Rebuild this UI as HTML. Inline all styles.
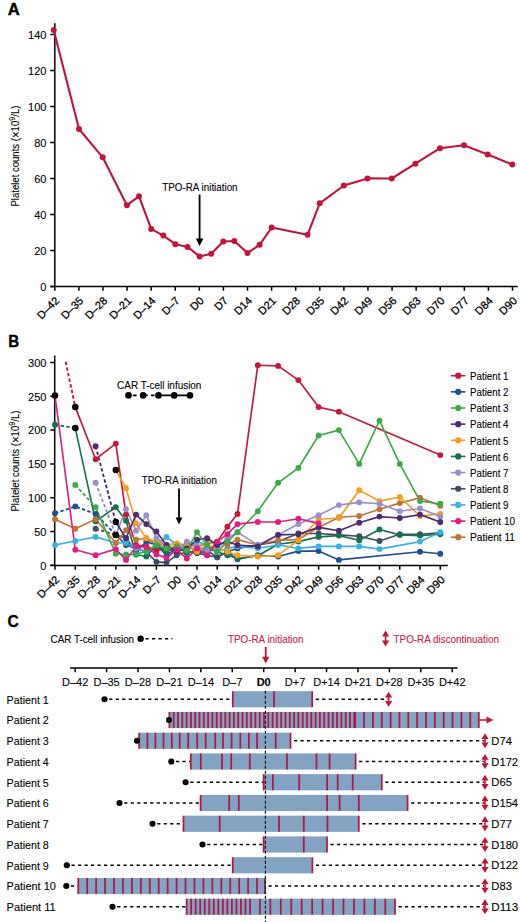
<!DOCTYPE html>
<html><head><meta charset="utf-8"><style>
html,body{margin:0;padding:0;background:#fff;}
svg{display:block;}
text{font-family:"Liberation Sans", sans-serif;fill:#000;stroke:#000;stroke-width:0.1px;}
</style></head><body>
<svg width="520" height="922" viewBox="0 0 520 922">
<rect width="520" height="922" fill="#fff"/>
<text x="7.8" y="15.1" font-size="17" font-weight="bold" textLength="12" lengthAdjust="spacingAndGlyphs" style="stroke-width:0.4px">A</text>
<path d="M54.8 23.3V287.2M50.3 286.6H517.8" stroke="#000" stroke-width="1.5" fill="none"/>
<text x="46.4" y="290.80" font-size="11" text-anchor="end">0</text>
<text x="46.4" y="254.80" font-size="11" text-anchor="end">20</text>
<text x="46.4" y="218.80" font-size="11" text-anchor="end">40</text>
<text x="46.4" y="182.80" font-size="11" text-anchor="end">60</text>
<text x="46.4" y="146.80" font-size="11" text-anchor="end">80</text>
<text x="46.4" y="110.80" font-size="11" text-anchor="end">100</text>
<text x="46.4" y="74.80" font-size="11" text-anchor="end">120</text>
<text x="46.4" y="38.80" font-size="11" text-anchor="end">140</text>
<text transform="translate(60.00,301.4) rotate(-45)" font-size="11" text-anchor="end" style="stroke-width:0.3px">D–42</text>
<text transform="translate(84.09,301.4) rotate(-45)" font-size="11" text-anchor="end" style="stroke-width:0.3px">D–35</text>
<text transform="translate(108.18,301.4) rotate(-45)" font-size="11" text-anchor="end" style="stroke-width:0.3px">D–28</text>
<text transform="translate(132.27,301.4) rotate(-45)" font-size="11" text-anchor="end" style="stroke-width:0.3px">D–21</text>
<text transform="translate(156.36,301.4) rotate(-45)" font-size="11" text-anchor="end" style="stroke-width:0.3px">D–14</text>
<text transform="translate(180.45,301.4) rotate(-45)" font-size="11" text-anchor="end" style="stroke-width:0.3px">D–7</text>
<text transform="translate(204.54,301.4) rotate(-45)" font-size="11" text-anchor="end" style="stroke-width:0.3px">D0</text>
<text transform="translate(228.63,301.4) rotate(-45)" font-size="11" text-anchor="end" style="stroke-width:0.3px">D7</text>
<text transform="translate(252.72,301.4) rotate(-45)" font-size="11" text-anchor="end" style="stroke-width:0.3px">D14</text>
<text transform="translate(276.81,301.4) rotate(-45)" font-size="11" text-anchor="end" style="stroke-width:0.3px">D21</text>
<text transform="translate(300.90,301.4) rotate(-45)" font-size="11" text-anchor="end" style="stroke-width:0.3px">D28</text>
<text transform="translate(324.99,301.4) rotate(-45)" font-size="11" text-anchor="end" style="stroke-width:0.3px">D35</text>
<text transform="translate(349.08,301.4) rotate(-45)" font-size="11" text-anchor="end" style="stroke-width:0.3px">D42</text>
<text transform="translate(373.17,301.4) rotate(-45)" font-size="11" text-anchor="end" style="stroke-width:0.3px">D49</text>
<text transform="translate(397.26,301.4) rotate(-45)" font-size="11" text-anchor="end" style="stroke-width:0.3px">D56</text>
<text transform="translate(421.35,301.4) rotate(-45)" font-size="11" text-anchor="end" style="stroke-width:0.3px">D63</text>
<text transform="translate(445.44,301.4) rotate(-45)" font-size="11" text-anchor="end" style="stroke-width:0.3px">D70</text>
<text transform="translate(469.53,301.4) rotate(-45)" font-size="11" text-anchor="end" style="stroke-width:0.3px">D77</text>
<text transform="translate(493.62,301.4) rotate(-45)" font-size="11" text-anchor="end" style="stroke-width:0.3px">D84</text>
<text transform="translate(517.71,301.4) rotate(-45)" font-size="11" text-anchor="end" style="stroke-width:0.3px">D90</text>
<path d="M50.3 286.60H54.8 M50.3 250.60H54.8 M50.3 214.60H54.8 M50.3 178.60H54.8 M50.3 142.60H54.8 M50.3 106.60H54.8 M50.3 70.60H54.8 M50.3 34.60H54.8 M54.80 286.6V290.8 M78.89 286.6V290.8 M102.98 286.6V290.8 M127.07 286.6V290.8 M151.16 286.6V290.8 M175.25 286.6V290.8 M199.34 286.6V290.8 M223.43 286.6V290.8 M247.52 286.6V290.8 M271.61 286.6V290.8 M295.70 286.6V290.8 M319.79 286.6V290.8 M343.88 286.6V290.8 M367.97 286.6V290.8 M392.06 286.6V290.8 M416.15 286.6V290.8 M440.24 286.6V290.8 M464.33 286.6V290.8 M488.42 286.6V290.8 M512.51 286.6V290.8" stroke="#000" stroke-width="1.5" fill="none"/>
<text transform="translate(19.1,156) rotate(-90)" font-size="11.3" text-anchor="middle" textLength="101" lengthAdjust="spacingAndGlyphs">Platelet counts (<tspan font-size="13.5" dy="0.5">×</tspan><tspan dy="-0.5">10</tspan><tspan dy="-4.6" font-size="8.8">9</tspan><tspan dy="4.6">/L)</tspan></text>
<path d="M53.7 30.1 L79.0 129.0 L102.7 157.3 L126.9 205.2 L139.0 196.3 L151.2 228.9 L163.3 235.6 L175.4 244.2 L187.5 246.9 L199.6 256.4 L211.2 253.7 L223.3 241.5 L234.3 241.0 L247.5 253.1 L259.6 244.8 L271.7 227.5 L307.5 234.8 L319.7 203.3 L343.9 185.5 L367.5 178.4 L391.7 178.5 L415.4 163.7 L440.0 148.2 L464.0 145.3 L487.7 154.5 L512.3 164.6" stroke="#C0143C" stroke-width="2.1" fill="none" stroke-linejoin="round"/>
<circle cx="53.7" cy="30.1" r="3" fill="#C0143C"/>
<circle cx="79.0" cy="129.0" r="3" fill="#C0143C"/>
<circle cx="102.7" cy="157.3" r="3" fill="#C0143C"/>
<circle cx="126.9" cy="205.2" r="3" fill="#C0143C"/>
<circle cx="139.0" cy="196.3" r="3" fill="#C0143C"/>
<circle cx="151.2" cy="228.9" r="3" fill="#C0143C"/>
<circle cx="163.3" cy="235.6" r="3" fill="#C0143C"/>
<circle cx="175.4" cy="244.2" r="3" fill="#C0143C"/>
<circle cx="187.5" cy="246.9" r="3" fill="#C0143C"/>
<circle cx="199.6" cy="256.4" r="3" fill="#C0143C"/>
<circle cx="211.2" cy="253.7" r="3" fill="#C0143C"/>
<circle cx="223.3" cy="241.5" r="3" fill="#C0143C"/>
<circle cx="234.3" cy="241.0" r="3" fill="#C0143C"/>
<circle cx="247.5" cy="253.1" r="3" fill="#C0143C"/>
<circle cx="259.6" cy="244.8" r="3" fill="#C0143C"/>
<circle cx="271.7" cy="227.5" r="3" fill="#C0143C"/>
<circle cx="307.5" cy="234.8" r="3" fill="#C0143C"/>
<circle cx="319.7" cy="203.3" r="3" fill="#C0143C"/>
<circle cx="343.9" cy="185.5" r="3" fill="#C0143C"/>
<circle cx="367.5" cy="178.4" r="3" fill="#C0143C"/>
<circle cx="391.7" cy="178.5" r="3" fill="#C0143C"/>
<circle cx="415.4" cy="163.7" r="3" fill="#C0143C"/>
<circle cx="440.0" cy="148.2" r="3" fill="#C0143C"/>
<circle cx="464.0" cy="145.3" r="3" fill="#C0143C"/>
<circle cx="487.7" cy="154.5" r="3" fill="#C0143C"/>
<circle cx="512.3" cy="164.6" r="3" fill="#C0143C"/>
<text x="162.3" y="190.9" font-size="10.4" textLength="75.3" lengthAdjust="spacingAndGlyphs">TPO-RA initiation</text>
<path d="M199.6 194.5V240" stroke="#000" stroke-width="1.8"/>
<path d="M195.8 238.5L199.6 246L203.4 238.5Z" fill="#000"/>
<text x="8.3" y="346.7" font-size="17" font-weight="bold" textLength="10.9" lengthAdjust="spacingAndGlyphs" style="stroke-width:0.4px">B</text>
<path d="M54.7 355.4V566M50.3 565.5H447.8" stroke="#000" stroke-width="1.5" fill="none"/>
<text x="46.4" y="569.50" font-size="11" text-anchor="end">0</text>
<text x="46.4" y="535.70" font-size="11" text-anchor="end">50</text>
<text x="46.4" y="501.90" font-size="11" text-anchor="end">100</text>
<text x="46.4" y="468.10" font-size="11" text-anchor="end">150</text>
<text x="46.4" y="434.30" font-size="11" text-anchor="end">200</text>
<text x="46.4" y="400.50" font-size="11" text-anchor="end">250</text>
<text x="46.4" y="366.70" font-size="11" text-anchor="end">300</text>
<text transform="translate(60.20,580.4) rotate(-45)" font-size="11" text-anchor="end" style="stroke-width:0.3px">D–42</text>
<text transform="translate(80.48,580.4) rotate(-45)" font-size="11" text-anchor="end" style="stroke-width:0.3px">D–35</text>
<text transform="translate(100.76,580.4) rotate(-45)" font-size="11" text-anchor="end" style="stroke-width:0.3px">D–28</text>
<text transform="translate(121.04,580.4) rotate(-45)" font-size="11" text-anchor="end" style="stroke-width:0.3px">D–21</text>
<text transform="translate(141.32,580.4) rotate(-45)" font-size="11" text-anchor="end" style="stroke-width:0.3px">D–14</text>
<text transform="translate(161.60,580.4) rotate(-45)" font-size="11" text-anchor="end" style="stroke-width:0.3px">D–7</text>
<text transform="translate(181.88,580.4) rotate(-45)" font-size="11" text-anchor="end" style="stroke-width:0.3px">D0</text>
<text transform="translate(202.16,580.4) rotate(-45)" font-size="11" text-anchor="end" style="stroke-width:0.3px">D7</text>
<text transform="translate(222.44,580.4) rotate(-45)" font-size="11" text-anchor="end" style="stroke-width:0.3px">D14</text>
<text transform="translate(242.72,580.4) rotate(-45)" font-size="11" text-anchor="end" style="stroke-width:0.3px">D21</text>
<text transform="translate(263.00,580.4) rotate(-45)" font-size="11" text-anchor="end" style="stroke-width:0.3px">D28</text>
<text transform="translate(283.28,580.4) rotate(-45)" font-size="11" text-anchor="end" style="stroke-width:0.3px">D35</text>
<text transform="translate(303.56,580.4) rotate(-45)" font-size="11" text-anchor="end" style="stroke-width:0.3px">D42</text>
<text transform="translate(323.84,580.4) rotate(-45)" font-size="11" text-anchor="end" style="stroke-width:0.3px">D49</text>
<text transform="translate(344.12,580.4) rotate(-45)" font-size="11" text-anchor="end" style="stroke-width:0.3px">D56</text>
<text transform="translate(364.40,580.4) rotate(-45)" font-size="11" text-anchor="end" style="stroke-width:0.3px">D63</text>
<text transform="translate(384.68,580.4) rotate(-45)" font-size="11" text-anchor="end" style="stroke-width:0.3px">D70</text>
<text transform="translate(404.96,580.4) rotate(-45)" font-size="11" text-anchor="end" style="stroke-width:0.3px">D77</text>
<text transform="translate(425.24,580.4) rotate(-45)" font-size="11" text-anchor="end" style="stroke-width:0.3px">D84</text>
<text transform="translate(445.52,580.4) rotate(-45)" font-size="11" text-anchor="end" style="stroke-width:0.3px">D90</text>
<path d="M50.3 565.30H54.7 M50.3 531.50H54.7 M50.3 497.70H54.7 M50.3 463.90H54.7 M50.3 430.10H54.7 M50.3 396.30H54.7 M50.3 362.50H54.7 M55.00 565.5V569.8 M75.28 565.5V569.8 M95.56 565.5V569.8 M115.84 565.5V569.8 M136.12 565.5V569.8 M156.40 565.5V569.8 M176.68 565.5V569.8 M196.96 565.5V569.8 M217.24 565.5V569.8 M237.52 565.5V569.8 M257.80 565.5V569.8 M278.08 565.5V569.8 M298.36 565.5V569.8 M318.64 565.5V569.8 M338.92 565.5V569.8 M359.20 565.5V569.8 M379.48 565.5V569.8 M399.76 565.5V569.8 M420.04 565.5V569.8 M440.32 565.5V569.8" stroke="#000" stroke-width="1.5" fill="none"/>
<text transform="translate(19.1,461) rotate(-90)" font-size="11.3" text-anchor="middle" textLength="101" lengthAdjust="spacingAndGlyphs">Platelet counts (<tspan font-size="13.5" dy="0.5">×</tspan><tspan dy="-0.5">10</tspan><tspan dy="-4.6" font-size="8.8">9</tspan><tspan dy="4.6">/L)</tspan></text>
<text x="117.1" y="389" font-size="10.4" textLength="84.3" lengthAdjust="spacingAndGlyphs">CAR T-cell infusion</text>
<path d="M132.8 395.4H136.6M143 395.4H147.8M151 395.4H154.5M158.5 395.4H190" stroke="#000" stroke-width="1.7"/>
<circle cx="128.5" cy="395.4" r="3.3" fill="#000"/>
<circle cx="143.1" cy="395.4" r="3.3" fill="#000"/>
<circle cx="158.5" cy="395.4" r="3.3" fill="#000"/>
<circle cx="174.2" cy="395.4" r="3.3" fill="#000"/>
<circle cx="190" cy="395.4" r="3.3" fill="#000"/>
<text x="141.7" y="484.2" font-size="10.4" textLength="75.2" lengthAdjust="spacingAndGlyphs">TPO-RA initiation</text>
<path d="M179 488.5V519" stroke="#000" stroke-width="1.8"/>
<path d="M175.6 517.5L179 524.6L182.4 517.5Z" fill="#000"/>
<path d="M65.7 361.8 L75.3 407.1" stroke="#C2183B" stroke-width="1.9" stroke-dasharray="3.4 2.3" fill="none"/>
<path d="M75.3 407.1 L95.6 459.2 L115.8 443.6 L126.0 514.6 L136.1 545.0 L146.3 546.4 L156.4 550.4 L166.5 548.4 L176.7 551.8 L186.8 546.4 L197.0 550.4 L207.1 553.1 L217.2 541.6 L227.4 526.8 L237.5 513.9 L257.8 365.2 L278.1 365.9 L298.4 380.1 L318.6 407.1 L338.9 411.8 L440.3 455.1" stroke="#C2183B" stroke-width="1.65" fill="none" stroke-linejoin="round"/>
<path d="M55.0 513.2 L75.3 506.5 L95.6 513.9 L115.8 534.9" stroke="#1F4F8C" stroke-width="1.9" stroke-dasharray="3.4 2.3" fill="none"/>
<path d="M115.8 534.9 L126.0 538.3 L136.1 551.8 L146.3 541.6 L156.4 545.0 L166.5 555.2 L176.7 548.4 L186.8 545.0 L197.0 553.1 L207.1 550.4 L217.2 557.2 L227.4 551.8 L237.5 559.2 L257.8 555.2 L278.1 556.5 L298.4 551.1 L318.6 551.1 L338.9 559.9 L420.0 551.8 L440.3 553.8" stroke="#1F4F8C" stroke-width="1.65" fill="none" stroke-linejoin="round"/>
<path d="M95.6 528.8 L115.8 534.9" stroke="#3F4E5E" stroke-width="1.9" stroke-dasharray="3.4 2.3" fill="none"/>
<path d="M115.8 534.9 L126.0 545.0 L136.1 548.4 L146.3 551.8 L156.4 561.9 L166.5 562.6 L176.7 555.2 L186.8 551.8 L197.0 553.1 L207.1 555.2 L217.2 557.2 L227.4 551.8 L237.5 548.4 L257.8 545.0 L278.1 541.6 L298.4 533.5 L318.6 533.5 L338.9 534.9 L359.2 536.2 L379.5 541.0 L399.8 534.2 L420.0 534.2 L440.3 532.9" stroke="#3F4E5E" stroke-width="1.65" fill="none" stroke-linejoin="round"/>
<path d="M55.0 424.7 L75.3 428.1" stroke="#17704F" stroke-width="1.9" stroke-dasharray="3.4 2.3" fill="none"/>
<path d="M75.3 428.1 L95.6 521.4 L115.8 507.2 L126.0 520.7 L136.1 554.5 L146.3 556.5 L156.4 545.0 L166.5 551.8 L176.7 546.4 L186.8 553.1 L197.0 550.4 L207.1 548.4 L217.2 551.8 L227.4 555.2 L237.5 558.5 L257.8 555.8 L278.1 544.3 L298.4 541.6 L318.6 536.9 L338.9 535.6 L359.2 540.3 L379.5 529.5 L399.8 534.9 L420.0 535.6 L440.3 534.2" stroke="#17704F" stroke-width="1.65" fill="none" stroke-linejoin="round"/>
<path d="M55.0 545.0 L75.3 541.0 L95.6 536.9 L115.8 543.0 L126.0 543.0 L136.1 548.4 L146.3 551.8 L156.4 545.0 L166.5 536.9 L176.7 545.0 L186.8 548.4 L197.0 541.6 L207.1 545.0 L217.2 551.8 L227.4 548.4 L237.5 546.4 L257.8 548.4 L278.1 545.0 L298.4 548.4 L318.6 546.4 L338.9 546.4 L359.2 546.4 L379.5 549.1 L420.0 541.6 L440.3 532.2" stroke="#37B2E3" stroke-width="1.65" fill="none" stroke-linejoin="round"/>
<path d="M55.0 519.3 L75.3 528.8 L95.6 519.3 L115.8 543.0 L126.0 530.1 L136.1 539.6 L146.3 538.3 L156.4 544.3 L166.5 545.0 L176.7 543.7 L186.8 545.0 L197.0 546.4 L207.1 543.7 L217.2 541.6 L227.4 545.0 L237.5 539.6 L257.8 545.0 L278.1 540.3 L298.4 539.6 L318.6 527.4 L338.9 517.3 L359.2 516.0 L379.5 509.2 L399.8 503.1 L420.0 497.7 L440.3 505.8" stroke="#BF7434" stroke-width="1.65" fill="none" stroke-linejoin="round"/>
<path d="M115.8 470.0 L126.0 488.2 L136.1 523.4 L146.3 538.3 L156.4 541.6 L166.5 545.0 L176.7 543.7 L186.8 546.4 L197.0 551.8 L207.1 545.0 L217.2 548.4 L227.4 551.8 L237.5 555.2 L257.8 556.5 L278.1 555.2 L298.4 540.3 L318.6 519.3 L338.9 518.0 L359.2 490.3 L379.5 501.1 L399.8 497.0 L420.0 516.0 L440.3 513.9" stroke="#F29F1F" stroke-width="1.65" fill="none" stroke-linejoin="round"/>
<path d="M95.6 482.8 L115.8 534.9" stroke="#9A8FCA" stroke-width="1.9" stroke-dasharray="3.4 2.3" fill="none"/>
<path d="M115.8 534.9 L126.0 509.2 L136.1 530.8 L146.3 515.3 L156.4 538.3 L166.5 545.0 L176.7 551.8 L186.8 541.6 L197.0 546.4 L207.1 550.4 L217.2 548.4 L227.4 538.3 L237.5 532.2 L257.8 545.0 L278.1 534.9 L298.4 524.1 L318.6 515.3 L338.9 505.1 L359.2 502.4 L379.5 503.8 L399.8 511.2 L420.0 508.5 L440.3 516.6" stroke="#9A8FCA" stroke-width="1.65" fill="none" stroke-linejoin="round"/>
<path d="M95.6 446.3 L115.8 522.0" stroke="#4E2A70" stroke-width="1.9" stroke-dasharray="3.4 2.3" fill="none"/>
<path d="M115.8 522.0 L126.0 538.3 L136.1 514.6 L146.3 524.1 L156.4 531.5 L166.5 545.0 L176.7 551.8 L186.8 548.4 L197.0 539.6 L207.1 538.3 L217.2 545.0 L227.4 541.6 L237.5 545.0 L257.8 546.4 L278.1 534.9 L298.4 534.2 L318.6 527.4 L338.9 530.8 L359.2 522.7 L379.5 516.6 L399.8 518.0 L420.0 514.6 L440.3 522.0" stroke="#4E2A70" stroke-width="1.65" fill="none" stroke-linejoin="round"/>
<path d="M75.3 484.9 L95.6 507.2" stroke="#3DAA48" stroke-width="1.9" stroke-dasharray="3.4 2.3" fill="none"/>
<path d="M95.6 507.2 L115.8 553.8 L126.0 554.5 L136.1 554.5 L146.3 551.1 L156.4 545.0 L166.5 548.4 L176.7 546.4 L186.8 550.4 L197.0 532.2 L207.1 545.0 L217.2 551.8 L227.4 541.6 L237.5 532.2 L257.8 511.2 L278.1 482.8 L298.4 468.0 L318.6 435.5 L338.9 430.1 L359.2 463.9 L379.5 420.6 L399.8 463.9 L420.0 501.1 L440.3 503.8" stroke="#3DAA48" stroke-width="1.65" fill="none" stroke-linejoin="round"/>
<path d="M55.0 395.6 L75.3 549.8 L95.6 555.2 L115.8 549.1 L126.0 559.9 L136.1 546.4 L146.3 547.0 L156.4 554.5 L166.5 557.9 L176.7 549.8 L186.8 558.5 L197.0 548.4 L207.1 555.2 L217.2 541.6 L227.4 534.2 L237.5 524.1 L257.8 522.0 L278.1 522.0 L298.4 518.7 L318.6 523.4" stroke="#E31C82" stroke-width="1.65" fill="none" stroke-linejoin="round"/>
<circle cx="75.3" cy="407.1" r="2.95" fill="#C2183B"/>
<circle cx="95.6" cy="459.2" r="2.95" fill="#C2183B"/>
<circle cx="115.8" cy="443.6" r="2.95" fill="#C2183B"/>
<circle cx="126.0" cy="514.6" r="2.95" fill="#C2183B"/>
<circle cx="136.1" cy="545.0" r="2.95" fill="#C2183B"/>
<circle cx="146.3" cy="546.4" r="2.95" fill="#C2183B"/>
<circle cx="156.4" cy="550.4" r="2.95" fill="#C2183B"/>
<circle cx="166.5" cy="548.4" r="2.95" fill="#C2183B"/>
<circle cx="176.7" cy="551.8" r="2.95" fill="#C2183B"/>
<circle cx="186.8" cy="546.4" r="2.95" fill="#C2183B"/>
<circle cx="197.0" cy="550.4" r="2.95" fill="#C2183B"/>
<circle cx="207.1" cy="553.1" r="2.95" fill="#C2183B"/>
<circle cx="217.2" cy="541.6" r="2.95" fill="#C2183B"/>
<circle cx="227.4" cy="526.8" r="2.95" fill="#C2183B"/>
<circle cx="237.5" cy="513.9" r="2.95" fill="#C2183B"/>
<circle cx="257.8" cy="365.2" r="2.95" fill="#C2183B"/>
<circle cx="278.1" cy="365.9" r="2.95" fill="#C2183B"/>
<circle cx="298.4" cy="380.1" r="2.95" fill="#C2183B"/>
<circle cx="318.6" cy="407.1" r="2.95" fill="#C2183B"/>
<circle cx="338.9" cy="411.8" r="2.95" fill="#C2183B"/>
<circle cx="440.3" cy="455.1" r="2.95" fill="#C2183B"/>
<circle cx="55.0" cy="513.2" r="2.95" fill="#1F4F8C"/>
<circle cx="75.3" cy="506.5" r="2.95" fill="#1F4F8C"/>
<circle cx="95.6" cy="513.9" r="2.95" fill="#1F4F8C"/>
<circle cx="115.8" cy="534.9" r="2.95" fill="#1F4F8C"/>
<circle cx="126.0" cy="538.3" r="2.95" fill="#1F4F8C"/>
<circle cx="136.1" cy="551.8" r="2.95" fill="#1F4F8C"/>
<circle cx="146.3" cy="541.6" r="2.95" fill="#1F4F8C"/>
<circle cx="156.4" cy="545.0" r="2.95" fill="#1F4F8C"/>
<circle cx="166.5" cy="555.2" r="2.95" fill="#1F4F8C"/>
<circle cx="176.7" cy="548.4" r="2.95" fill="#1F4F8C"/>
<circle cx="186.8" cy="545.0" r="2.95" fill="#1F4F8C"/>
<circle cx="197.0" cy="553.1" r="2.95" fill="#1F4F8C"/>
<circle cx="207.1" cy="550.4" r="2.95" fill="#1F4F8C"/>
<circle cx="217.2" cy="557.2" r="2.95" fill="#1F4F8C"/>
<circle cx="227.4" cy="551.8" r="2.95" fill="#1F4F8C"/>
<circle cx="237.5" cy="559.2" r="2.95" fill="#1F4F8C"/>
<circle cx="257.8" cy="555.2" r="2.95" fill="#1F4F8C"/>
<circle cx="278.1" cy="556.5" r="2.95" fill="#1F4F8C"/>
<circle cx="298.4" cy="551.1" r="2.95" fill="#1F4F8C"/>
<circle cx="318.6" cy="551.1" r="2.95" fill="#1F4F8C"/>
<circle cx="338.9" cy="559.9" r="2.95" fill="#1F4F8C"/>
<circle cx="420.0" cy="551.8" r="2.95" fill="#1F4F8C"/>
<circle cx="440.3" cy="553.8" r="2.95" fill="#1F4F8C"/>
<circle cx="95.6" cy="528.8" r="2.95" fill="#3F4E5E"/>
<circle cx="115.8" cy="534.9" r="2.95" fill="#3F4E5E"/>
<circle cx="126.0" cy="545.0" r="2.95" fill="#3F4E5E"/>
<circle cx="136.1" cy="548.4" r="2.95" fill="#3F4E5E"/>
<circle cx="146.3" cy="551.8" r="2.95" fill="#3F4E5E"/>
<circle cx="156.4" cy="561.9" r="2.95" fill="#3F4E5E"/>
<circle cx="166.5" cy="562.6" r="2.95" fill="#3F4E5E"/>
<circle cx="176.7" cy="555.2" r="2.95" fill="#3F4E5E"/>
<circle cx="186.8" cy="551.8" r="2.95" fill="#3F4E5E"/>
<circle cx="197.0" cy="553.1" r="2.95" fill="#3F4E5E"/>
<circle cx="207.1" cy="555.2" r="2.95" fill="#3F4E5E"/>
<circle cx="217.2" cy="557.2" r="2.95" fill="#3F4E5E"/>
<circle cx="227.4" cy="551.8" r="2.95" fill="#3F4E5E"/>
<circle cx="237.5" cy="548.4" r="2.95" fill="#3F4E5E"/>
<circle cx="257.8" cy="545.0" r="2.95" fill="#3F4E5E"/>
<circle cx="278.1" cy="541.6" r="2.95" fill="#3F4E5E"/>
<circle cx="298.4" cy="533.5" r="2.95" fill="#3F4E5E"/>
<circle cx="318.6" cy="533.5" r="2.95" fill="#3F4E5E"/>
<circle cx="338.9" cy="534.9" r="2.95" fill="#3F4E5E"/>
<circle cx="359.2" cy="536.2" r="2.95" fill="#3F4E5E"/>
<circle cx="379.5" cy="541.0" r="2.95" fill="#3F4E5E"/>
<circle cx="399.8" cy="534.2" r="2.95" fill="#3F4E5E"/>
<circle cx="420.0" cy="534.2" r="2.95" fill="#3F4E5E"/>
<circle cx="440.3" cy="532.9" r="2.95" fill="#3F4E5E"/>
<circle cx="55.0" cy="424.7" r="2.95" fill="#17704F"/>
<circle cx="75.3" cy="428.1" r="2.95" fill="#17704F"/>
<circle cx="95.6" cy="521.4" r="2.95" fill="#17704F"/>
<circle cx="115.8" cy="507.2" r="2.95" fill="#17704F"/>
<circle cx="126.0" cy="520.7" r="2.95" fill="#17704F"/>
<circle cx="136.1" cy="554.5" r="2.95" fill="#17704F"/>
<circle cx="146.3" cy="556.5" r="2.95" fill="#17704F"/>
<circle cx="156.4" cy="545.0" r="2.95" fill="#17704F"/>
<circle cx="166.5" cy="551.8" r="2.95" fill="#17704F"/>
<circle cx="176.7" cy="546.4" r="2.95" fill="#17704F"/>
<circle cx="186.8" cy="553.1" r="2.95" fill="#17704F"/>
<circle cx="197.0" cy="550.4" r="2.95" fill="#17704F"/>
<circle cx="207.1" cy="548.4" r="2.95" fill="#17704F"/>
<circle cx="217.2" cy="551.8" r="2.95" fill="#17704F"/>
<circle cx="227.4" cy="555.2" r="2.95" fill="#17704F"/>
<circle cx="237.5" cy="558.5" r="2.95" fill="#17704F"/>
<circle cx="257.8" cy="555.8" r="2.95" fill="#17704F"/>
<circle cx="278.1" cy="544.3" r="2.95" fill="#17704F"/>
<circle cx="298.4" cy="541.6" r="2.95" fill="#17704F"/>
<circle cx="318.6" cy="536.9" r="2.95" fill="#17704F"/>
<circle cx="338.9" cy="535.6" r="2.95" fill="#17704F"/>
<circle cx="359.2" cy="540.3" r="2.95" fill="#17704F"/>
<circle cx="379.5" cy="529.5" r="2.95" fill="#17704F"/>
<circle cx="399.8" cy="534.9" r="2.95" fill="#17704F"/>
<circle cx="420.0" cy="535.6" r="2.95" fill="#17704F"/>
<circle cx="440.3" cy="534.2" r="2.95" fill="#17704F"/>
<circle cx="55.0" cy="545.0" r="2.95" fill="#37B2E3"/>
<circle cx="75.3" cy="541.0" r="2.95" fill="#37B2E3"/>
<circle cx="95.6" cy="536.9" r="2.95" fill="#37B2E3"/>
<circle cx="115.8" cy="543.0" r="2.95" fill="#37B2E3"/>
<circle cx="126.0" cy="543.0" r="2.95" fill="#37B2E3"/>
<circle cx="136.1" cy="548.4" r="2.95" fill="#37B2E3"/>
<circle cx="146.3" cy="551.8" r="2.95" fill="#37B2E3"/>
<circle cx="156.4" cy="545.0" r="2.95" fill="#37B2E3"/>
<circle cx="166.5" cy="536.9" r="2.95" fill="#37B2E3"/>
<circle cx="176.7" cy="545.0" r="2.95" fill="#37B2E3"/>
<circle cx="186.8" cy="548.4" r="2.95" fill="#37B2E3"/>
<circle cx="197.0" cy="541.6" r="2.95" fill="#37B2E3"/>
<circle cx="207.1" cy="545.0" r="2.95" fill="#37B2E3"/>
<circle cx="217.2" cy="551.8" r="2.95" fill="#37B2E3"/>
<circle cx="227.4" cy="548.4" r="2.95" fill="#37B2E3"/>
<circle cx="237.5" cy="546.4" r="2.95" fill="#37B2E3"/>
<circle cx="257.8" cy="548.4" r="2.95" fill="#37B2E3"/>
<circle cx="278.1" cy="545.0" r="2.95" fill="#37B2E3"/>
<circle cx="298.4" cy="548.4" r="2.95" fill="#37B2E3"/>
<circle cx="318.6" cy="546.4" r="2.95" fill="#37B2E3"/>
<circle cx="338.9" cy="546.4" r="2.95" fill="#37B2E3"/>
<circle cx="359.2" cy="546.4" r="2.95" fill="#37B2E3"/>
<circle cx="379.5" cy="549.1" r="2.95" fill="#37B2E3"/>
<circle cx="420.0" cy="541.6" r="2.95" fill="#37B2E3"/>
<circle cx="440.3" cy="532.2" r="2.95" fill="#37B2E3"/>
<circle cx="55.0" cy="519.3" r="2.95" fill="#BF7434"/>
<circle cx="75.3" cy="528.8" r="2.95" fill="#BF7434"/>
<circle cx="95.6" cy="519.3" r="2.95" fill="#BF7434"/>
<circle cx="115.8" cy="543.0" r="2.95" fill="#BF7434"/>
<circle cx="126.0" cy="530.1" r="2.95" fill="#BF7434"/>
<circle cx="136.1" cy="539.6" r="2.95" fill="#BF7434"/>
<circle cx="146.3" cy="538.3" r="2.95" fill="#BF7434"/>
<circle cx="156.4" cy="544.3" r="2.95" fill="#BF7434"/>
<circle cx="166.5" cy="545.0" r="2.95" fill="#BF7434"/>
<circle cx="176.7" cy="543.7" r="2.95" fill="#BF7434"/>
<circle cx="186.8" cy="545.0" r="2.95" fill="#BF7434"/>
<circle cx="197.0" cy="546.4" r="2.95" fill="#BF7434"/>
<circle cx="207.1" cy="543.7" r="2.95" fill="#BF7434"/>
<circle cx="217.2" cy="541.6" r="2.95" fill="#BF7434"/>
<circle cx="227.4" cy="545.0" r="2.95" fill="#BF7434"/>
<circle cx="237.5" cy="539.6" r="2.95" fill="#BF7434"/>
<circle cx="257.8" cy="545.0" r="2.95" fill="#BF7434"/>
<circle cx="278.1" cy="540.3" r="2.95" fill="#BF7434"/>
<circle cx="298.4" cy="539.6" r="2.95" fill="#BF7434"/>
<circle cx="318.6" cy="527.4" r="2.95" fill="#BF7434"/>
<circle cx="338.9" cy="517.3" r="2.95" fill="#BF7434"/>
<circle cx="359.2" cy="516.0" r="2.95" fill="#BF7434"/>
<circle cx="379.5" cy="509.2" r="2.95" fill="#BF7434"/>
<circle cx="399.8" cy="503.1" r="2.95" fill="#BF7434"/>
<circle cx="420.0" cy="497.7" r="2.95" fill="#BF7434"/>
<circle cx="440.3" cy="505.8" r="2.95" fill="#BF7434"/>
<circle cx="115.8" cy="470.0" r="2.95" fill="#F29F1F"/>
<circle cx="126.0" cy="488.2" r="2.95" fill="#F29F1F"/>
<circle cx="136.1" cy="523.4" r="2.95" fill="#F29F1F"/>
<circle cx="146.3" cy="538.3" r="2.95" fill="#F29F1F"/>
<circle cx="156.4" cy="541.6" r="2.95" fill="#F29F1F"/>
<circle cx="166.5" cy="545.0" r="2.95" fill="#F29F1F"/>
<circle cx="176.7" cy="543.7" r="2.95" fill="#F29F1F"/>
<circle cx="186.8" cy="546.4" r="2.95" fill="#F29F1F"/>
<circle cx="197.0" cy="551.8" r="2.95" fill="#F29F1F"/>
<circle cx="207.1" cy="545.0" r="2.95" fill="#F29F1F"/>
<circle cx="217.2" cy="548.4" r="2.95" fill="#F29F1F"/>
<circle cx="227.4" cy="551.8" r="2.95" fill="#F29F1F"/>
<circle cx="237.5" cy="555.2" r="2.95" fill="#F29F1F"/>
<circle cx="257.8" cy="556.5" r="2.95" fill="#F29F1F"/>
<circle cx="278.1" cy="555.2" r="2.95" fill="#F29F1F"/>
<circle cx="298.4" cy="540.3" r="2.95" fill="#F29F1F"/>
<circle cx="318.6" cy="519.3" r="2.95" fill="#F29F1F"/>
<circle cx="338.9" cy="518.0" r="2.95" fill="#F29F1F"/>
<circle cx="359.2" cy="490.3" r="2.95" fill="#F29F1F"/>
<circle cx="379.5" cy="501.1" r="2.95" fill="#F29F1F"/>
<circle cx="399.8" cy="497.0" r="2.95" fill="#F29F1F"/>
<circle cx="420.0" cy="516.0" r="2.95" fill="#F29F1F"/>
<circle cx="440.3" cy="513.9" r="2.95" fill="#F29F1F"/>
<circle cx="95.6" cy="482.8" r="2.95" fill="#9A8FCA"/>
<circle cx="115.8" cy="534.9" r="2.95" fill="#9A8FCA"/>
<circle cx="126.0" cy="509.2" r="2.95" fill="#9A8FCA"/>
<circle cx="136.1" cy="530.8" r="2.95" fill="#9A8FCA"/>
<circle cx="146.3" cy="515.3" r="2.95" fill="#9A8FCA"/>
<circle cx="156.4" cy="538.3" r="2.95" fill="#9A8FCA"/>
<circle cx="166.5" cy="545.0" r="2.95" fill="#9A8FCA"/>
<circle cx="176.7" cy="551.8" r="2.95" fill="#9A8FCA"/>
<circle cx="186.8" cy="541.6" r="2.95" fill="#9A8FCA"/>
<circle cx="197.0" cy="546.4" r="2.95" fill="#9A8FCA"/>
<circle cx="207.1" cy="550.4" r="2.95" fill="#9A8FCA"/>
<circle cx="217.2" cy="548.4" r="2.95" fill="#9A8FCA"/>
<circle cx="227.4" cy="538.3" r="2.95" fill="#9A8FCA"/>
<circle cx="237.5" cy="532.2" r="2.95" fill="#9A8FCA"/>
<circle cx="257.8" cy="545.0" r="2.95" fill="#9A8FCA"/>
<circle cx="278.1" cy="534.9" r="2.95" fill="#9A8FCA"/>
<circle cx="298.4" cy="524.1" r="2.95" fill="#9A8FCA"/>
<circle cx="318.6" cy="515.3" r="2.95" fill="#9A8FCA"/>
<circle cx="338.9" cy="505.1" r="2.95" fill="#9A8FCA"/>
<circle cx="359.2" cy="502.4" r="2.95" fill="#9A8FCA"/>
<circle cx="379.5" cy="503.8" r="2.95" fill="#9A8FCA"/>
<circle cx="399.8" cy="511.2" r="2.95" fill="#9A8FCA"/>
<circle cx="420.0" cy="508.5" r="2.95" fill="#9A8FCA"/>
<circle cx="440.3" cy="516.6" r="2.95" fill="#9A8FCA"/>
<circle cx="95.6" cy="446.3" r="2.95" fill="#4E2A70"/>
<circle cx="115.8" cy="522.0" r="2.95" fill="#4E2A70"/>
<circle cx="126.0" cy="538.3" r="2.95" fill="#4E2A70"/>
<circle cx="136.1" cy="514.6" r="2.95" fill="#4E2A70"/>
<circle cx="146.3" cy="524.1" r="2.95" fill="#4E2A70"/>
<circle cx="156.4" cy="531.5" r="2.95" fill="#4E2A70"/>
<circle cx="166.5" cy="545.0" r="2.95" fill="#4E2A70"/>
<circle cx="176.7" cy="551.8" r="2.95" fill="#4E2A70"/>
<circle cx="186.8" cy="548.4" r="2.95" fill="#4E2A70"/>
<circle cx="197.0" cy="539.6" r="2.95" fill="#4E2A70"/>
<circle cx="207.1" cy="538.3" r="2.95" fill="#4E2A70"/>
<circle cx="217.2" cy="545.0" r="2.95" fill="#4E2A70"/>
<circle cx="227.4" cy="541.6" r="2.95" fill="#4E2A70"/>
<circle cx="237.5" cy="545.0" r="2.95" fill="#4E2A70"/>
<circle cx="257.8" cy="546.4" r="2.95" fill="#4E2A70"/>
<circle cx="278.1" cy="534.9" r="2.95" fill="#4E2A70"/>
<circle cx="298.4" cy="534.2" r="2.95" fill="#4E2A70"/>
<circle cx="318.6" cy="527.4" r="2.95" fill="#4E2A70"/>
<circle cx="338.9" cy="530.8" r="2.95" fill="#4E2A70"/>
<circle cx="359.2" cy="522.7" r="2.95" fill="#4E2A70"/>
<circle cx="379.5" cy="516.6" r="2.95" fill="#4E2A70"/>
<circle cx="399.8" cy="518.0" r="2.95" fill="#4E2A70"/>
<circle cx="420.0" cy="514.6" r="2.95" fill="#4E2A70"/>
<circle cx="440.3" cy="522.0" r="2.95" fill="#4E2A70"/>
<circle cx="75.3" cy="484.9" r="2.95" fill="#3DAA48"/>
<circle cx="95.6" cy="507.2" r="2.95" fill="#3DAA48"/>
<circle cx="115.8" cy="553.8" r="2.95" fill="#3DAA48"/>
<circle cx="126.0" cy="554.5" r="2.95" fill="#3DAA48"/>
<circle cx="136.1" cy="554.5" r="2.95" fill="#3DAA48"/>
<circle cx="146.3" cy="551.1" r="2.95" fill="#3DAA48"/>
<circle cx="156.4" cy="545.0" r="2.95" fill="#3DAA48"/>
<circle cx="166.5" cy="548.4" r="2.95" fill="#3DAA48"/>
<circle cx="176.7" cy="546.4" r="2.95" fill="#3DAA48"/>
<circle cx="186.8" cy="550.4" r="2.95" fill="#3DAA48"/>
<circle cx="197.0" cy="532.2" r="2.95" fill="#3DAA48"/>
<circle cx="207.1" cy="545.0" r="2.95" fill="#3DAA48"/>
<circle cx="217.2" cy="551.8" r="2.95" fill="#3DAA48"/>
<circle cx="227.4" cy="541.6" r="2.95" fill="#3DAA48"/>
<circle cx="237.5" cy="532.2" r="2.95" fill="#3DAA48"/>
<circle cx="257.8" cy="511.2" r="2.95" fill="#3DAA48"/>
<circle cx="278.1" cy="482.8" r="2.95" fill="#3DAA48"/>
<circle cx="298.4" cy="468.0" r="2.95" fill="#3DAA48"/>
<circle cx="318.6" cy="435.5" r="2.95" fill="#3DAA48"/>
<circle cx="338.9" cy="430.1" r="2.95" fill="#3DAA48"/>
<circle cx="359.2" cy="463.9" r="2.95" fill="#3DAA48"/>
<circle cx="379.5" cy="420.6" r="2.95" fill="#3DAA48"/>
<circle cx="399.8" cy="463.9" r="2.95" fill="#3DAA48"/>
<circle cx="420.0" cy="501.1" r="2.95" fill="#3DAA48"/>
<circle cx="440.3" cy="503.8" r="2.95" fill="#3DAA48"/>
<circle cx="55.0" cy="395.6" r="2.95" fill="#E31C82"/>
<circle cx="75.3" cy="549.8" r="2.95" fill="#E31C82"/>
<circle cx="95.6" cy="555.2" r="2.95" fill="#E31C82"/>
<circle cx="115.8" cy="549.1" r="2.95" fill="#E31C82"/>
<circle cx="126.0" cy="559.9" r="2.95" fill="#E31C82"/>
<circle cx="136.1" cy="546.4" r="2.95" fill="#E31C82"/>
<circle cx="146.3" cy="547.0" r="2.95" fill="#E31C82"/>
<circle cx="156.4" cy="554.5" r="2.95" fill="#E31C82"/>
<circle cx="166.5" cy="557.9" r="2.95" fill="#E31C82"/>
<circle cx="176.7" cy="549.8" r="2.95" fill="#E31C82"/>
<circle cx="186.8" cy="558.5" r="2.95" fill="#E31C82"/>
<circle cx="197.0" cy="548.4" r="2.95" fill="#E31C82"/>
<circle cx="207.1" cy="555.2" r="2.95" fill="#E31C82"/>
<circle cx="217.2" cy="541.6" r="2.95" fill="#E31C82"/>
<circle cx="227.4" cy="534.2" r="2.95" fill="#E31C82"/>
<circle cx="237.5" cy="524.1" r="2.95" fill="#E31C82"/>
<circle cx="257.8" cy="522.0" r="2.95" fill="#E31C82"/>
<circle cx="278.1" cy="522.0" r="2.95" fill="#E31C82"/>
<circle cx="298.4" cy="518.7" r="2.95" fill="#E31C82"/>
<circle cx="318.6" cy="523.4" r="2.95" fill="#E31C82"/>
<circle cx="75.3" cy="407.1" r="3.25" fill="#000"/>
<circle cx="75.3" cy="428.1" r="3.25" fill="#000"/>
<circle cx="115.8" cy="470.0" r="3.25" fill="#000"/>
<circle cx="115.8" cy="534.9" r="3.25" fill="#000"/>
<circle cx="115.8" cy="522.0" r="3.25" fill="#000"/>
<circle cx="55.0" cy="395.6" r="3.25" fill="#000"/>
<path d="M450.8 375.70H465.4" stroke="#C2183B" stroke-width="1.6"/>
<circle cx="458.2" cy="375.70" r="3.1" fill="#C2183B"/>
<text x="470" y="379.90" font-size="10" textLength="38.5" lengthAdjust="spacingAndGlyphs">Patient 1</text>
<path d="M450.8 391.85H465.4" stroke="#1F4F8C" stroke-width="1.6"/>
<circle cx="458.2" cy="391.85" r="3.1" fill="#1F4F8C"/>
<text x="470" y="396.05" font-size="10" textLength="38.5" lengthAdjust="spacingAndGlyphs">Patient 2</text>
<path d="M450.8 408.00H465.4" stroke="#3DAA48" stroke-width="1.6"/>
<circle cx="458.2" cy="408.00" r="3.1" fill="#3DAA48"/>
<text x="470" y="412.20" font-size="10" textLength="38.5" lengthAdjust="spacingAndGlyphs">Patient 3</text>
<path d="M450.8 424.15H465.4" stroke="#4E2A70" stroke-width="1.6"/>
<circle cx="458.2" cy="424.15" r="3.1" fill="#4E2A70"/>
<text x="470" y="428.35" font-size="10" textLength="38.5" lengthAdjust="spacingAndGlyphs">Patient 4</text>
<path d="M450.8 440.30H465.4" stroke="#F29F1F" stroke-width="1.6"/>
<circle cx="458.2" cy="440.30" r="3.1" fill="#F29F1F"/>
<text x="470" y="444.50" font-size="10" textLength="38.5" lengthAdjust="spacingAndGlyphs">Patient 5</text>
<path d="M450.8 456.45H465.4" stroke="#17704F" stroke-width="1.6"/>
<circle cx="458.2" cy="456.45" r="3.1" fill="#17704F"/>
<text x="470" y="460.65" font-size="10" textLength="38.5" lengthAdjust="spacingAndGlyphs">Patient 6</text>
<path d="M450.8 472.60H465.4" stroke="#9A8FCA" stroke-width="1.6"/>
<circle cx="458.2" cy="472.60" r="3.1" fill="#9A8FCA"/>
<text x="470" y="476.80" font-size="10" textLength="38.5" lengthAdjust="spacingAndGlyphs">Patient 7</text>
<path d="M450.8 488.75H465.4" stroke="#3F4E5E" stroke-width="1.6"/>
<circle cx="458.2" cy="488.75" r="3.1" fill="#3F4E5E"/>
<text x="470" y="492.95" font-size="10" textLength="38.5" lengthAdjust="spacingAndGlyphs">Patient 8</text>
<path d="M450.8 504.90H465.4" stroke="#37B2E3" stroke-width="1.6"/>
<circle cx="458.2" cy="504.90" r="3.1" fill="#37B2E3"/>
<text x="470" y="509.10" font-size="10" textLength="38.5" lengthAdjust="spacingAndGlyphs">Patient 9</text>
<path d="M450.8 521.05H465.4" stroke="#E31C82" stroke-width="1.6"/>
<circle cx="458.2" cy="521.05" r="3.1" fill="#E31C82"/>
<text x="470" y="525.25" font-size="10" textLength="45" lengthAdjust="spacingAndGlyphs">Patient 10</text>
<path d="M450.8 537.20H465.4" stroke="#BF7434" stroke-width="1.6"/>
<circle cx="458.2" cy="537.20" r="3.1" fill="#BF7434"/>
<text x="470" y="541.40" font-size="10" textLength="45" lengthAdjust="spacingAndGlyphs">Patient 11</text>
<text x="7.5" y="626.5" font-size="17" font-weight="bold" textLength="11.3" lengthAdjust="spacingAndGlyphs" style="stroke-width:0.4px">C</text>
<text x="50.6" y="642.8" font-size="10.5" textLength="83.5" lengthAdjust="spacingAndGlyphs">CAR T-cell infusion</text>
<circle cx="140.6" cy="638.7" r="3.2" fill="#000"/>
<path d="M145.5 638.7H172.5" stroke="#000" stroke-width="1.4" stroke-dasharray="3.2 3.3"/>
<text x="228" y="643" font-size="10.5" style="fill:#C42448;stroke:#C42448" textLength="75.5" lengthAdjust="spacingAndGlyphs">TPO-RA initiation</text>
<path d="M265.7 647V658.5" stroke="#C0143A" stroke-width="1.8"/>
<path d="M262.1 656.8L265.7 663.5L269.3 656.8Z" fill="#C0143A"/>
<path d="M382.00 636.50L385.60 630.60L389.20 636.50Z M382.00 640.50L385.60 646.40L389.20 640.50Z" fill="#C0143A"/>
<path d="M385.60 635.60V641.40" stroke="#C0143A" stroke-width="1.6"/>
<text x="393.5" y="643" font-size="10.5" style="fill:#C42448;stroke:#C42448" textLength="105.5" lengthAdjust="spacingAndGlyphs">TPO-RA discontinuation</text>
<text x="75.18" y="685.9" font-size="11" text-anchor="middle">D–42</text>
<text x="106.60" y="685.9" font-size="11" text-anchor="middle">D–35</text>
<text x="138.02" y="685.9" font-size="11" text-anchor="middle">D–28</text>
<text x="169.44" y="685.9" font-size="11" text-anchor="middle">D–21</text>
<text x="200.86" y="685.9" font-size="11" text-anchor="middle">D–14</text>
<text x="232.28" y="685.9" font-size="11" text-anchor="middle">D–7</text>
<text x="263.70" y="685.9" font-size="11" text-anchor="middle" font-weight="bold">D0</text>
<text x="295.12" y="685.9" font-size="11" text-anchor="middle">D+7</text>
<text x="326.54" y="685.9" font-size="11" text-anchor="middle">D+14</text>
<text x="357.96" y="685.9" font-size="11" text-anchor="middle">D+21</text>
<text x="389.38" y="685.9" font-size="11" text-anchor="middle">D+28</text>
<text x="420.80" y="685.9" font-size="11" text-anchor="middle">D+35</text>
<text x="452.22" y="685.9" font-size="11" text-anchor="middle">D+42</text>
<path d="M70.1 668.1H457.6 M75.18 668.1V672.3 M106.60 668.1V672.3 M138.02 668.1V672.3 M169.44 668.1V672.3 M200.86 668.1V672.3 M232.28 668.1V672.3 M263.70 668.1V672.3 M295.12 668.1V672.3 M326.54 668.1V672.3 M357.96 668.1V672.3 M389.38 668.1V672.3 M420.80 668.1V672.3 M452.22 668.1V672.3" stroke="#000" stroke-width="1.5" fill="none"/>
<path d="M109.20 699.25H232.80" stroke="#000" stroke-width="1.4" stroke-dasharray="3.2 3.3"/>
<path d="M315.70 699.25H387.60" stroke="#000" stroke-width="1.4" stroke-dasharray="3.2 3.3"/>
<rect x="232.80" y="691.15" width="79.40" height="16.2" fill="#82A4C2"/>
<path d="M232.80 691.15V707.35 M274.00 691.15V707.35 M312.20 691.15V707.35" stroke="#AE1846" stroke-width="1.75"/>
<circle cx="104.50" cy="699.25" r="3.05" fill="#000"/>
<path d="M385.00 697.55L388.60 691.65L392.20 697.55Z M385.00 700.95L388.60 706.85L392.20 700.95Z" fill="#C0143A"/>
<path d="M388.60 696.65V701.85" stroke="#C0143A" stroke-width="1.6"/>
<text x="6.6" y="703.55" font-size="11" textLength="42.2" lengthAdjust="spacingAndGlyphs">Patient 1</text>
<rect x="169.20" y="711.90" width="309.60" height="16.2" fill="#82A4C2"/>
<path d="M169.40 711.90V728.10 M173.70 711.90V728.10 M178.00 711.90V728.10 M182.30 711.90V728.10 M186.60 711.90V728.10 M190.90 711.90V728.10 M195.20 711.90V728.10 M199.50 711.90V728.10 M203.80 711.90V728.10 M208.10 711.90V728.10 M212.40 711.90V728.10 M216.70 711.90V728.10 M221.00 711.90V728.10 M225.30 711.90V728.10 M229.60 711.90V728.10 M233.90 711.90V728.10 M238.20 711.90V728.10 M242.50 711.90V728.10 M246.80 711.90V728.10 M251.10 711.90V728.10 M255.40 711.90V728.10 M259.70 711.90V728.10 M264.00 711.90V728.10 M268.30 711.90V728.10 M272.60 711.90V728.10 M276.90 711.90V728.10 M281.20 711.90V728.10 M285.50 711.90V728.10 M289.80 711.90V728.10 M294.10 711.90V728.10 M298.40 711.90V728.10 M302.70 711.90V728.10 M307.00 711.90V728.10 M311.30 711.90V728.10 M315.60 711.90V728.10 M319.90 711.90V728.10 M324.20 711.90V728.10 M328.50 711.90V728.10 M332.80 711.90V728.10 M337.10 711.90V728.10 M341.40 711.90V728.10 M345.70 711.90V728.10 M350.00 711.90V728.10 M354.30 711.90V728.10 M355.20 711.90V728.10 M364.05 711.90V728.10 M372.90 711.90V728.10 M381.75 711.90V728.10 M390.60 711.90V728.10 M399.45 711.90V728.10 M408.30 711.90V728.10 M417.15 711.90V728.10 M426.00 711.90V728.10 M434.85 711.90V728.10 M443.70 711.90V728.10 M452.55 711.90V728.10 M461.40 711.90V728.10 M470.25 711.90V728.10 M478.80 711.90V728.10" stroke="#AE1846" stroke-width="1.75"/>
<circle cx="169.00" cy="720.00" r="3.05" fill="#000"/>
<path d="M478.8 720.00H488" stroke="#C0143A" stroke-width="1.5"/>
<path d="M486.5 716.40L493.5 720.00L486.5 723.60Z" fill="#C0143A"/>
<text x="6.6" y="724.30" font-size="11" textLength="42.2" lengthAdjust="spacingAndGlyphs">Patient 2</text>
<path d="M294.00 740.75H484.00" stroke="#000" stroke-width="1.4" stroke-dasharray="3.2 3.3"/>
<rect x="138.60" y="732.65" width="151.90" height="16.2" fill="#82A4C2"/>
<path d="M139.20 732.65V748.85 M147.40 732.65V748.85 M155.40 732.65V748.85 M163.50 732.65V748.85 M171.80 732.65V748.85 M179.70 732.65V748.85 M188.20 732.65V748.85 M197.20 732.65V748.85 M205.70 732.65V748.85 M215.20 732.65V748.85 M223.00 732.65V748.85 M231.60 732.65V748.85 M240.30 732.65V748.85 M248.90 732.65V748.85 M257.10 732.65V748.85 M275.70 732.65V748.85 M290.50 732.65V748.85" stroke="#AE1846" stroke-width="1.75"/>
<circle cx="137.00" cy="740.75" r="3.05" fill="#000"/>
<path d="M481.40 739.05L485.00 733.15L488.60 739.05Z M481.40 742.45L485.00 748.35L488.60 742.45Z" fill="#C0143A"/>
<path d="M485.00 738.15V743.35" stroke="#C0143A" stroke-width="1.6"/>
<text x="491.3" y="744.95" font-size="11" textLength="20.6" lengthAdjust="spacingAndGlyphs">D74</text>
<text x="6.6" y="745.05" font-size="11" textLength="42.2" lengthAdjust="spacingAndGlyphs">Patient 3</text>
<path d="M176.00 761.50H190.60" stroke="#000" stroke-width="1.4" stroke-dasharray="3.2 3.3"/>
<path d="M359.10 761.50H484.00" stroke="#000" stroke-width="1.4" stroke-dasharray="3.2 3.3"/>
<rect x="190.60" y="753.40" width="165.00" height="16.2" fill="#82A4C2"/>
<path d="M190.80 753.40V769.60 M200.80 753.40V769.60 M222.00 753.40V769.60 M231.20 753.40V769.60 M249.80 753.40V769.60 M286.90 753.40V769.60 M316.50 753.40V769.60 M329.60 753.40V769.60 M355.60 753.40V769.60" stroke="#AE1846" stroke-width="1.75"/>
<circle cx="171.30" cy="761.50" r="3.05" fill="#000"/>
<path d="M481.40 759.80L485.00 753.90L488.60 759.80Z M481.40 763.20L485.00 769.10L488.60 763.20Z" fill="#C0143A"/>
<path d="M485.00 758.90V764.10" stroke="#C0143A" stroke-width="1.6"/>
<text x="491.3" y="765.70" font-size="11" textLength="26.8" lengthAdjust="spacingAndGlyphs">D172</text>
<text x="6.6" y="765.80" font-size="11" textLength="42.2" lengthAdjust="spacingAndGlyphs">Patient 4</text>
<path d="M190.30 782.25H263.40" stroke="#000" stroke-width="1.4" stroke-dasharray="3.2 3.3"/>
<path d="M385.30 782.25H484.00" stroke="#000" stroke-width="1.4" stroke-dasharray="3.2 3.3"/>
<rect x="263.40" y="774.15" width="118.40" height="16.2" fill="#82A4C2"/>
<path d="M263.60 774.15V790.35 M272.90 774.15V790.35 M299.20 774.15V790.35 M327.10 774.15V790.35 M337.70 774.15V790.35 M352.70 774.15V790.35 M381.80 774.15V790.35" stroke="#AE1846" stroke-width="1.75"/>
<circle cx="185.60" cy="782.25" r="3.05" fill="#000"/>
<path d="M481.40 780.55L485.00 774.65L488.60 780.55Z M481.40 783.95L485.00 789.85L488.60 783.95Z" fill="#C0143A"/>
<path d="M485.00 779.65V784.85" stroke="#C0143A" stroke-width="1.6"/>
<text x="491.3" y="786.45" font-size="11" textLength="20.6" lengthAdjust="spacingAndGlyphs">D65</text>
<text x="6.6" y="786.55" font-size="11" textLength="42.2" lengthAdjust="spacingAndGlyphs">Patient 5</text>
<path d="M124.20 803.00H200.60" stroke="#000" stroke-width="1.4" stroke-dasharray="3.2 3.3"/>
<path d="M411.10 803.00H484.00" stroke="#000" stroke-width="1.4" stroke-dasharray="3.2 3.3"/>
<rect x="200.60" y="794.90" width="207.00" height="16.2" fill="#82A4C2"/>
<path d="M200.60 794.90V811.10 M229.20 794.90V811.10 M238.80 794.90V811.10 M327.10 794.90V811.10 M339.60 794.90V811.10 M358.80 794.90V811.10 M407.60 794.90V811.10" stroke="#AE1846" stroke-width="1.75"/>
<circle cx="119.50" cy="803.00" r="3.05" fill="#000"/>
<path d="M481.40 801.30L485.00 795.40L488.60 801.30Z M481.40 804.70L485.00 810.60L488.60 804.70Z" fill="#C0143A"/>
<path d="M485.00 800.40V805.60" stroke="#C0143A" stroke-width="1.6"/>
<text x="491.3" y="807.20" font-size="11" textLength="26.8" lengthAdjust="spacingAndGlyphs">D154</text>
<text x="6.6" y="807.30" font-size="11" textLength="42.2" lengthAdjust="spacingAndGlyphs">Patient 6</text>
<path d="M157.20 823.75H183.40" stroke="#000" stroke-width="1.4" stroke-dasharray="3.2 3.3"/>
<path d="M362.30 823.75H484.00" stroke="#000" stroke-width="1.4" stroke-dasharray="3.2 3.3"/>
<rect x="183.40" y="815.65" width="175.40" height="16.2" fill="#82A4C2"/>
<path d="M183.50 815.65V831.85 M219.70 815.65V831.85 M279.00 815.65V831.85 M303.80 815.65V831.85 M327.50 815.65V831.85 M358.80 815.65V831.85" stroke="#AE1846" stroke-width="1.75"/>
<circle cx="152.50" cy="823.75" r="3.05" fill="#000"/>
<path d="M481.40 822.05L485.00 816.15L488.60 822.05Z M481.40 825.45L485.00 831.35L488.60 825.45Z" fill="#C0143A"/>
<path d="M485.00 821.15V826.35" stroke="#C0143A" stroke-width="1.6"/>
<text x="491.3" y="827.95" font-size="11" textLength="20.6" lengthAdjust="spacingAndGlyphs">D77</text>
<text x="6.6" y="828.05" font-size="11" textLength="42.2" lengthAdjust="spacingAndGlyphs">Patient 7</text>
<path d="M207.20 844.50H263.40" stroke="#000" stroke-width="1.4" stroke-dasharray="3.2 3.3"/>
<path d="M330.50 844.50H484.00" stroke="#000" stroke-width="1.4" stroke-dasharray="3.2 3.3"/>
<rect x="263.40" y="836.40" width="63.60" height="16.2" fill="#82A4C2"/>
<path d="M263.60 836.40V852.60 M303.80 836.40V852.60 M327.00 836.40V852.60" stroke="#AE1846" stroke-width="1.75"/>
<circle cx="202.50" cy="844.50" r="3.05" fill="#000"/>
<path d="M481.40 842.80L485.00 836.90L488.60 842.80Z M481.40 846.20L485.00 852.10L488.60 846.20Z" fill="#C0143A"/>
<path d="M485.00 841.90V847.10" stroke="#C0143A" stroke-width="1.6"/>
<text x="491.3" y="848.70" font-size="11" textLength="26.8" lengthAdjust="spacingAndGlyphs">D180</text>
<text x="6.6" y="848.80" font-size="11" textLength="42.2" lengthAdjust="spacingAndGlyphs">Patient 8</text>
<path d="M71.50 865.25H232.60" stroke="#000" stroke-width="1.4" stroke-dasharray="3.2 3.3"/>
<path d="M315.90 865.25H484.00" stroke="#000" stroke-width="1.4" stroke-dasharray="3.2 3.3"/>
<rect x="232.60" y="857.15" width="79.80" height="16.2" fill="#82A4C2"/>
<path d="M232.70 857.15V873.35 M312.40 857.15V873.35" stroke="#AE1846" stroke-width="1.75"/>
<circle cx="66.80" cy="865.25" r="3.05" fill="#000"/>
<path d="M481.40 863.55L485.00 857.65L488.60 863.55Z M481.40 866.95L485.00 872.85L488.60 866.95Z" fill="#C0143A"/>
<path d="M485.00 862.65V867.85" stroke="#C0143A" stroke-width="1.6"/>
<text x="491.3" y="869.45" font-size="11" textLength="26.8" lengthAdjust="spacingAndGlyphs">D122</text>
<text x="6.6" y="869.55" font-size="11" textLength="42.2" lengthAdjust="spacingAndGlyphs">Patient 9</text>
<path d="M71.00 886.00H78.20" stroke="#000" stroke-width="1.4" stroke-dasharray="3.2 3.3"/>
<path d="M268.50 886.00H484.00" stroke="#000" stroke-width="1.4" stroke-dasharray="3.2 3.3"/>
<rect x="78.20" y="877.90" width="186.80" height="16.2" fill="#82A4C2"/>
<path d="M78.25 877.90V894.10 M87.19 877.90V894.10 M96.13 877.90V894.10 M105.07 877.90V894.10 M114.01 877.90V894.10 M122.95 877.90V894.10 M131.89 877.90V894.10 M140.83 877.90V894.10 M149.77 877.90V894.10 M158.71 877.90V894.10 M167.65 877.90V894.10 M176.59 877.90V894.10 M185.53 877.90V894.10 M194.47 877.90V894.10 M203.41 877.90V894.10 M212.35 877.90V894.10 M221.29 877.90V894.10 M230.23 877.90V894.10 M239.17 877.90V894.10 M248.11 877.90V894.10 M257.05 877.90V894.10 M265.00 877.90V894.10" stroke="#AE1846" stroke-width="1.75"/>
<circle cx="66.30" cy="886.00" r="3.05" fill="#000"/>
<path d="M481.40 884.30L485.00 878.40L488.60 884.30Z M481.40 887.70L485.00 893.60L488.60 887.70Z" fill="#C0143A"/>
<path d="M485.00 883.40V888.60" stroke="#C0143A" stroke-width="1.6"/>
<text x="491.3" y="890.20" font-size="11" textLength="20.6" lengthAdjust="spacingAndGlyphs">D83</text>
<text x="6.6" y="890.30" font-size="11" textLength="49.2" lengthAdjust="spacingAndGlyphs">Patient 10</text>
<path d="M117.20 906.75H186.40" stroke="#000" stroke-width="1.4" stroke-dasharray="3.2 3.3"/>
<path d="M398.50 906.75H484.00" stroke="#000" stroke-width="1.4" stroke-dasharray="3.2 3.3"/>
<rect x="186.40" y="898.65" width="208.60" height="16.2" fill="#82A4C2"/>
<path d="M186.60 898.65V914.85 M191.13 898.65V914.85 M195.66 898.65V914.85 M200.19 898.65V914.85 M204.72 898.65V914.85 M209.25 898.65V914.85 M213.78 898.65V914.85 M218.31 898.65V914.85 M222.84 898.65V914.85 M227.37 898.65V914.85 M231.90 898.65V914.85 M236.43 898.65V914.85 M240.96 898.65V914.85 M245.49 898.65V914.85 M250.02 898.65V914.85 M259.90 898.65V914.85 M270.35 898.65V914.85 M280.80 898.65V914.85 M291.25 898.65V914.85 M301.70 898.65V914.85 M312.15 898.65V914.85 M322.60 898.65V914.85 M333.05 898.65V914.85 M343.50 898.65V914.85 M353.95 898.65V914.85 M364.40 898.65V914.85 M374.85 898.65V914.85 M385.30 898.65V914.85 M395.00 898.65V914.85" stroke="#AE1846" stroke-width="1.75"/>
<circle cx="112.50" cy="906.75" r="3.05" fill="#000"/>
<path d="M481.40 905.05L485.00 899.15L488.60 905.05Z M481.40 908.45L485.00 914.35L488.60 908.45Z" fill="#C0143A"/>
<path d="M485.00 904.15V909.35" stroke="#C0143A" stroke-width="1.6"/>
<text x="491.3" y="910.95" font-size="11" textLength="26.8" lengthAdjust="spacingAndGlyphs">D113</text>
<text x="6.6" y="911.05" font-size="11" textLength="49.2" lengthAdjust="spacingAndGlyphs">Patient 11</text>
<path d="M265.4 690.8V922" stroke="#000" stroke-width="1.1" stroke-dasharray="3 2"/>
</svg></body></html>
